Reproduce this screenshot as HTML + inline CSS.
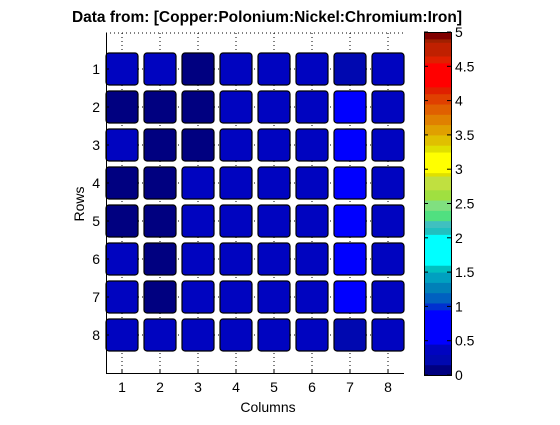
<!DOCTYPE html>
<html><head><meta charset="utf-8"><style>
html,body{margin:0;padding:0;background:#fff;}
svg text{font-family:"Liberation Sans",sans-serif;}
</style></head><body>
<svg id="c" width="560" height="420" xmlns="http://www.w3.org/2000/svg">
<rect width="560" height="420" fill="#fff"/>
<text x="267" y="22" text-anchor="middle" font-size="15.5" font-weight="bold">Data from: [Copper:Polonium:Nickel:Chromium:Iron]</text>
<g id="grid"></g><g id="cells"></g><g id="axes"></g><g id="cbar"></g>
<text x="268" y="412" text-anchor="middle" font-size="14">Columns</text>
<text transform="translate(84,204) rotate(-90)" text-anchor="middle" font-size="14">Rows</text>
</svg>
<script>
const columns=[1,2,3,4,5,6,7,8];
const rows=[1,2,3,4,5,6,7,8];
const values=[
[.35,.35,.1,.35,.35,.35,.2,.35],
[.1,.1,.1,.35,.35,.35,.6,.35],
[.35,.1,.1,.35,.35,.35,.6,.35],
[.1,.1,.35,.35,.35,.35,.6,.35],
[.1,.1,.35,.35,.35,.35,.6,.35],
[.35,.1,.35,.35,.35,.35,.6,.35],
[.35,.1,.35,.35,.35,.35,.6,.35],
[.35,.35,.35,.35,.35,.35,.2,.35]];
const cbTicks=[0,0.5,1,1.5,2,2.5,3,3.5,4,4.5,5];
const cbLabels=["0","0.5","1","1.5","2","2.5","3","3.5","4","4.5","5"];
const bandEdges=[0,.15,.3,.45,.95,1.05,1.2,1.35,1.5,1.6,2.05,2.15,2.25,2.4,2.55,2.7,2.9,2.95,3.25,3.35,3.5,3.65,3.8,3.95,4.1,4.2,4.55,4.65,4.85,4.9,5];
const bandColors=["#000080","#0008b0","#0004c0","#0000ff","#0030d0","#0060c0","#0080b8","#00a0c0","#00c0c0","#00ffff","#20c0c0","#40c0c0","#50e080","#80e080","#a0e040","#c0e040","#e0e000","#ffff00","#e0e000","#e0c000","#e0a000","#e08000","#e06000","#e04000","#e02000","#ff0000","#e02000","#c02000","#a02000","#800000"];
const NS="http://www.w3.org/2000/svg";
function mk(t,a,p){const e=document.createElementNS(NS,t);for(const k in a)e.setAttribute(k,a[k]);p.appendChild(e);return e;}
const xS=v=>122+(v-1)*38, yS=r=>69+(r-1)*38;
const cbY=v=>375-v/5*343;
function colorOf(v){for(let i=0;i<bandColors.length;i++){if(v<bandEdges[i+1])return bandColors[i];}return bandColors[bandColors.length-1];}
const grid=document.getElementById('grid'),cells=document.getElementById('cells'),axes=document.getElementById('axes'),cb=document.getElementById('cbar');
let l=mk('line',{x1:106,x2:404,y1:33,y2:33,stroke:'#000','stroke-dasharray':'1,3','stroke-width':1},grid);


columns.forEach(c=>{const g=mk('line',{x1:xS(c),x2:xS(c),y1:33,y2:373,stroke:'#000','stroke-dasharray':'1,3'},grid);

});
rows.forEach(r=>{const g=mk('line',{x1:106,x2:404,y1:yS(r),y2:yS(r),stroke:'#000','stroke-dasharray':'1,3'},grid);

});
rows.forEach((r,i)=>columns.forEach((c,j)=>{const e=mk('rect',{x:xS(c)-16,y:yS(r)-16,width:32,height:32,rx:3,fill:colorOf(values[i][j]),stroke:'#000','stroke-width':1.2},cells);

}));
let a=mk('path',{d:'M106.5,33V373.5H404',stroke:'#000',fill:'none'},axes);


columns.forEach(c=>{mk('line',{x1:xS(c),x2:xS(c),y1:373,y2:370,stroke:'#000'},axes);
const t=mk('text',{x:xS(c),y:392,'text-anchor':'middle','font-size':14},axes);t.textContent=c;

});
rows.forEach(r=>{mk('line',{x1:106,x2:109,y1:yS(r),y2:yS(r),stroke:'#000'},axes);
const t=mk('text',{x:100,y:yS(r)+5,'text-anchor':'end','font-size':14},axes);t.textContent=r;

});
bandColors.forEach((col,i)=>{const e=mk('rect',{x:424,y:cbY(bandEdges[i+1]),width:27,height:cbY(bandEdges[i])-cbY(bandEdges[i+1])+0.5,fill:col},cb);

});
let fr=mk('rect',{x:424.5,y:32.5,width:27,height:343,fill:'none',stroke:'#000'},cb);


cbTicks.forEach((v,i)=>{mk('line',{x1:451,x2:447,y1:cbY(v),y2:cbY(v),stroke:'#000'},cb);mk('line',{x1:424,x2:428,y1:cbY(v),y2:cbY(v),stroke:'#000'},cb);
const t=mk('text',{x:455,y:cbY(v)+5,'font-size':14},cb);t.textContent=cbLabels[i];

});
</script>
</body></html>
